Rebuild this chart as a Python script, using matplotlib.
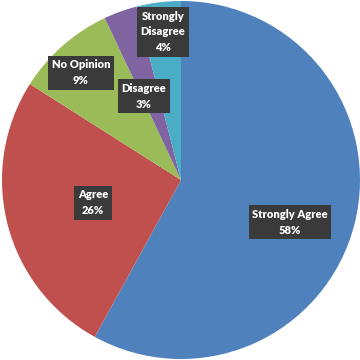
import matplotlib
matplotlib.use('Agg')
import matplotlib.pyplot as plt

# Data
labels = ['Strongly Agree', 'Agree', 'No Opinion', 'Disagree', 'Strongly\nDisagree']
values = [58, 26, 9, 3, 4]
colors = ['#4F81BD', '#C0504D', '#9BBB59', '#8064A2', '#4BACC6']

# Label box positions (axes data units, pie radius = 1)
label_pos = [(0.609, -0.235), (-0.492, -0.128), (-0.559, 0.598),
             (-0.207, 0.469), (-0.101, 0.827)]

fig = plt.figure(figsize=(3.6, 3.6), dpi=100)
ax = fig.add_axes([0, 0, 1, 1])

ax.pie(
    values,
    colors=colors,
    startangle=90,
    counterclock=False,
    radius=1.0,
    wedgeprops={'linewidth': 0}
)

for lab, val, (x, y) in zip(labels, values, label_pos):
    ax.text(
        x, y, f'{lab}\n{val}%',
        ha='center', va='center',
        color='white', fontsize=8, fontweight='heavy',
        family=['Lato', 'DejaVu Sans'],
        linespacing=1.55,
        bbox=dict(boxstyle='square,pad=0.32', fc='#3A3A3A', ec='none')
    )

# center (181,180) px, radius 179 px in a 360 px image
ax.set_xlim(-181 / 179, 179 / 179)
ax.set_ylim(-180 / 179, 180 / 179)
ax.set_aspect('equal')
ax.axis('off')

fig.savefig('out.png', dpi=100, facecolor='white')
